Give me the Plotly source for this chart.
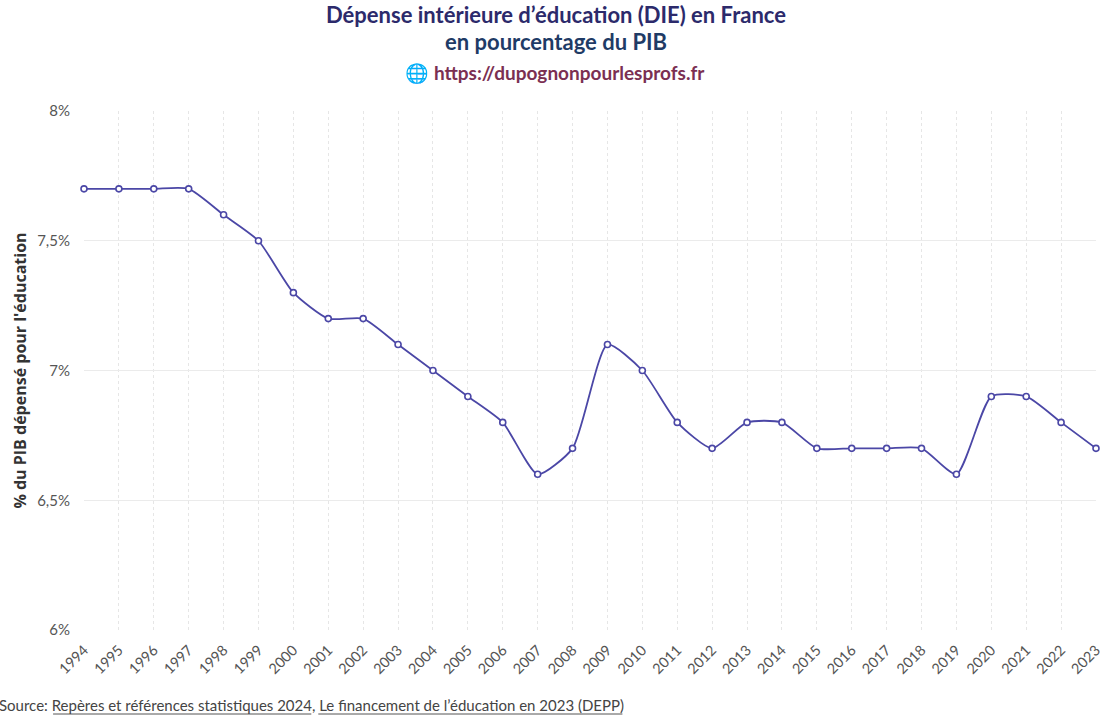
import plotly.graph_objects as go

years = list(range(1994, 2024))
die_pct = [7.7, 7.7, 7.7, 7.7, 7.6, 7.5, 7.3, 7.2, 7.2, 7.1,
           7.0, 6.9, 6.8, 6.6, 6.7, 7.1, 7.0, 6.8, 6.7, 6.8,
           6.8, 6.7, 6.7, 6.7, 6.7, 6.6, 6.9, 6.9, 6.8, 6.7]
y_tick_vals = [6, 6.5, 7, 7.5, 8]
y_tick_text = ["6%", "6,5%", "7%", "7,5%", "8%"]

title_line1 = "Dépense intérieure d’éducation (DIE) en France"
title_line2 = "en pourcentage du PIB"
site_url = "https://dupognonpourlesprofs.fr"
y_title = "% du PIB dépensé pour l'éducation"
source_prefix = "Source: "
source_1 = "Repères et références statistiques 2024"
source_2 = "Le financement de l’éducation en 2023 (DEPP)"

FONT = "Lato"
W, H = 1115, 720
ML, MR, MT, MB = 84, 16, 111, 90
plot_w = W - ML - MR
plot_h = H - MT - MB


def px_x(px):
    return (px - ML) / plot_w


def px_y(py):
    return (H - MB - py) / plot_h


fig = go.Figure()
fig.add_trace(go.Scatter(
    x=years, y=die_pct,
    mode="lines+markers",
    line=dict(color="#4b47a6", width=1.8, shape="spline", smoothing=0.6),
    marker=dict(size=6, color="white", line=dict(color="#4b47a6", width=1.6)),
    cliponaxis=False,
    hoverinfo="x+y",
))

annotations = [
    dict(text="<b>" + title_line1 + "</b>", x=px_x(557), y=px_y(14),
         xanchor="center", yanchor="middle",
         font=dict(size=22, color="#2c2a6b", family=FONT)),
    dict(text="<b>" + title_line2 + "</b>", x=px_x(557), y=px_y(41),
         xanchor="center", yanchor="middle",
         font=dict(size=22, color="#1f3b66", family=FONT)),
    dict(text="🌐 <b>" + site_url + "</b>", x=px_x(556), y=px_y(73),
         xanchor="center", yanchor="middle",
         font=dict(size=19, color="#7b2f52", family=FONT)),
    dict(text=source_prefix + source_1 + ", " + source_2,
         x=px_x(-3), y=px_y(705), xanchor="left", yanchor="middle",
         font=dict(size=15, color="#444444", family=FONT)),
]
for a in annotations:
    a.update(xref="paper", yref="paper", showarrow=False)

# underlines for the two source references
underlines = [(53, 312), (319, 624)]
shapes = [dict(type="line", xref="paper", yref="paper",
               x0=px_x(a), x1=px_x(b), y0=px_y(714), y1=px_y(714),
               line=dict(color="#555555", width=1)) for a, b in underlines]

fig.update_layout(
    width=W, height=H,
    paper_bgcolor="white", plot_bgcolor="white",
    margin=dict(l=ML, r=MR, t=MT, b=MB),
    showlegend=False,
    font=dict(family=FONT, color="#555555", size=14),
    xaxis=dict(
        range=[1994, 2023],
        tickmode="array", tickvals=years, ticktext=[str(y) for y in years],
        tickangle=-45,
        showgrid=True, gridcolor="#e6e6e6", griddash="dot", gridwidth=1,
        zeroline=False, showline=False,
        ticks="outside", ticklen=5, tickcolor="white",
        tickfont=dict(size=14.5, color="#555555"),
    ),
    yaxis=dict(
        range=[6, 8],
        tickmode="array", tickvals=y_tick_vals, ticktext=y_tick_text,
        showgrid=True, gridcolor="#ebebeb", gridwidth=1,
        zeroline=False, showline=False,
        ticks="outside", ticklen=10, tickcolor="white",
        tickfont=dict(size=15, color="#555555"),
        title=dict(text="<b>" + y_title + "</b>",
                   font=dict(size=16, color="#333333", family="Open Sans"), standoff=6),
    ),
    annotations=annotations,
    shapes=shapes,
)

fig.write_html("out.html", config={"displayModeBar": False},
               post_script="document.body.style.margin='0';document.body.style.padding='0';")
